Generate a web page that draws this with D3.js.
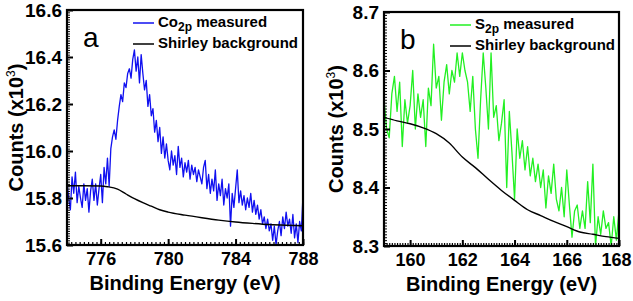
<!DOCTYPE html>
<html>
<head>
<meta charset="utf-8">
<script src="https://cdn.jsdelivr.net/npm/d3@7"></script>
<style>
  body { margin: 0; background: #fff; }
  svg { display: block; font-family: "Liberation Sans", Arial, sans-serif; }
</style>
</head>
<body>
<svg id="chart" width="633" height="301"></svg>
<script>
// panel a : Co 2p
const coEnergy = [
  774.0,774.1,774.2,774.3,774.4,774.5,774.6,774.7,774.8,774.9,
  775.0,775.1,775.2,775.3,775.4,775.5,775.6,775.7,775.8,775.9,
  776.0,776.1,776.2,776.3,776.4,776.5,776.6,776.7,776.8,776.9,
  777.0,777.1,777.2,777.3,777.4,777.5,777.6,777.7,777.8,777.9,
  778.0,778.1,778.2,778.3,778.4,778.5,778.6,778.7,778.8,778.9,
  779.0,779.1,779.2,779.3,779.4,779.5,779.6,779.7,779.8,779.9,
  780.0,780.1,780.2,780.3,780.4,780.5,780.6,780.7,780.8,780.9,
  781.0,781.1,781.2,781.3,781.4,781.5,781.6,781.7,781.8,781.9,
  782.0,782.1,782.2,782.3,782.4,782.5,782.6,782.7,782.8,782.9,
  783.0,783.1,783.2,783.3,783.4,783.5,783.6,783.7,783.8,783.9,
  784.0,784.1,784.2,784.3,784.4,784.5,784.6,784.7,784.8,784.9,
  785.0,785.1,785.2,785.3,785.4,785.5,785.6,785.7,785.8,785.9,
  786.0,786.1,786.2,786.3,786.4,786.5,786.6,786.7,786.8,786.9,
  787.0,787.1,787.2,787.3,787.4,787.5,787.6,787.7,787.8,787.9,
  788.0
]
const coCounts = [
  15.87,15.80,15.75,15.89,15.82,15.91,15.78,15.85,15.80,15.76,
  15.86,15.79,15.84,15.74,15.83,15.88,15.79,15.86,15.77,15.84,
  15.90,15.78,15.93,15.86,15.97,15.85,16.01,16.06,16.09,16.05,
  16.13,16.19,16.24,16.21,16.29,16.27,16.33,16.35,16.31,16.39,
  16.43,16.34,16.40,16.29,16.41,16.33,16.26,16.30,16.19,16.24,
  16.15,16.18,16.08,16.13,16.04,16.10,15.99,16.06,15.97,16.03,
  15.96,15.92,16.00,15.94,15.98,15.90,16.02,15.93,15.97,15.89,
  15.95,15.91,15.96,15.88,15.94,15.90,15.93,15.87,15.92,15.89,
  15.86,15.93,15.96,15.84,15.90,15.82,15.88,15.83,15.92,15.79,
  15.86,15.81,15.88,15.77,15.84,15.80,15.86,15.68,15.82,15.76,
  15.84,15.92,15.78,15.83,15.77,15.81,15.75,15.80,15.76,15.82,
  15.74,15.79,15.73,15.77,15.71,15.75,15.69,15.72,15.67,15.71,
  15.66,15.69,15.62,15.68,15.60,15.66,15.70,15.64,15.72,15.67,
  15.74,15.68,15.71,15.65,15.73,15.63,15.69,15.61,15.70,15.66,
  15.81
]
const coBgEnergy = [774, 775, 776, 776.4, 777, 777.5, 778, 778.5, 779, 779.5, 780, 781, 782, 783, 784, 785, 786, 787, 788]
const coBg = [15.852, 15.852, 15.851, 15.848, 15.838, 15.817, 15.797, 15.780, 15.765, 15.750, 15.740, 15.727, 15.716, 15.706, 15.698, 15.692, 15.687, 15.684, 15.682]
const coXTicks = [776, 780, 784, 788]
const coYTicks = [15.6, 15.8, 16.0, 16.2, 16.4, 16.6]

// panel b : S 2p
const sEnergy = [
  159.0,159.1,159.2,159.3,159.4,159.5,159.6,159.7,159.8,159.9,
  160.0,160.1,160.2,160.3,160.4,160.5,160.6,160.7,160.8,160.9,
  161.0,161.1,161.2,161.3,161.4,161.5,161.6,161.7,161.8,161.9,
  162.0,162.1,162.2,162.3,162.4,162.5,162.6,162.7,162.8,162.9,
  163.0,163.1,163.2,163.3,163.4,163.5,163.6,163.7,163.8,163.9,
  164.0,164.1,164.2,164.3,164.4,164.5,164.6,164.7,164.8,164.9,
  165.0,165.1,165.2,165.3,165.4,165.5,165.6,165.7,165.8,165.9,
  166.0,166.1,166.2,166.3,166.4,166.5,166.6,166.7,166.8,166.9,
  167.0,167.1,167.2,167.3,167.4,167.5,167.6,167.7,167.8,167.9,
  168.0
]
const sCounts = [
  8.550,8.500,8.485,8.560,8.590,8.530,8.580,8.470,8.550,8.510,
  8.540,8.600,8.500,8.560,8.520,8.550,8.470,8.570,8.540,8.645,
  8.570,8.590,8.515,8.580,8.610,8.560,8.600,8.580,8.630,8.590,
  8.630,8.600,8.580,8.530,8.590,8.500,8.450,8.550,8.630,8.570,
  8.500,8.630,8.520,8.540,8.480,8.510,8.550,8.400,8.530,8.460,
  8.380,8.500,8.450,8.480,8.430,8.470,8.420,8.450,8.410,8.440,
  8.400,8.430,8.365,8.420,8.390,8.440,8.380,8.360,8.400,8.350,
  8.430,8.370,8.315,8.360,8.370,8.330,8.360,8.330,8.410,8.340,
  8.440,8.300,8.350,8.320,8.360,8.330,8.340,8.300,8.350,8.310,
  8.360
]
const sBgEnergy = [159, 159.5, 160, 160.5, 161, 161.5, 162, 162.5, 163, 163.5, 164, 164.5, 165, 165.5, 166, 166.5, 167, 167.5, 168]
const sBg = [8.520, 8.514, 8.509, 8.502, 8.492, 8.476, 8.452, 8.434, 8.414, 8.395, 8.378, 8.362, 8.352, 8.342, 8.333, 8.324, 8.320, 8.316, 8.313]
const sXTicks = [160, 162, 164, 166, 168]
const sYTicks = [8.3, 8.4, 8.5, 8.6, 8.7]

const svg = d3.select('#chart')

const panels = [
  {
    id: 'a', box: [67, 303, 10, 245],
    xDom: [774, 788], yDom: [15.6, 16.6],
    xTicks: coXTicks, yTicks: coYTicks, xMinor: 0.25, yMinor: 0.01,
    energy: coEnergy, counts: coCounts, bgE: coBgEnergy, bg: coBg,
    color: '#1010f0', main: 'Co', sub: '2p',
    legX: 133, legY: 23, titleX: 23
  },
  {
    id: 'b', box: [384, 619, 12, 246],
    xDom: [159, 168], yDom: [8.3, 8.7],
    xTicks: sXTicks, yTicks: sYTicks, xMinor: 0.1, yMinor: 0.005,
    energy: sEnergy, counts: sCounts, bgE: sBgEnergy, bg: sBg,
    color: '#22f022', main: 'S', sub: '2p',
    legX: 450, legY: 25, titleX: 343
  }
]

panels.forEach(p => {
  const [x0, x1, y0, y1] = p.box
  const x = d3.scaleLinear().domain(p.xDom).range([x0, x1])
  const y = d3.scaleLinear().domain(p.yDom).range([y1, y0])

  const g = svg.append('g')

  svg.append('clipPath').attr('id', 'clip-' + p.id)
    .append('rect').attr('x', x0).attr('y', y0).attr('width', x1 - x0).attr('height', y1 - y0)

  const plot = g.append('g').attr('clip-path', `url(#clip-${p.id})`)

  // measured spectrum
  plot.append('path')
    .datum(p.energy.map((e, i) => [e, p.counts[i]]))
    .attr('fill', 'none')
    .attr('stroke', p.color)
    .attr('stroke-width', 1.3)
    .attr('stroke-linejoin', 'round')
    .attr('d', d3.line().x(d => x(d[0])).y(d => y(d[1])))

  // shirley background
  plot.append('path')
    .datum(p.bgE.map((e, i) => [e, p.bg[i]]))
    .attr('fill', 'none')
    .attr('stroke', '#000')
    .attr('stroke-width', 1.4)
    .attr('d', d3.line().curve(d3.curveMonotoneX).x(d => x(d[0])).y(d => y(d[1])))

  // minor ticks (inward)
  const xMinorVals = d3.range(p.xDom[0], p.xDom[1] + 1e-6, p.xMinor)
  const yMinorVals = d3.range(p.yDom[0], p.yDom[1] + 1e-6, p.yMinor)

  g.append('g').attr('transform', `translate(0,${y1})`)
    .call(d3.axisBottom(x).tickValues(xMinorVals).tickSize(-3).tickFormat(''))
    .call(a => a.select('.domain').remove())
    .call(a => a.selectAll('line').attr('stroke-width', 1.2))

  g.append('g').attr('transform', `translate(${x0},0)`)
    .call(d3.axisLeft(y).tickValues(yMinorVals).tickSize(-3).tickFormat(''))
    .call(a => a.select('.domain').remove())
    .call(a => a.selectAll('line').attr('stroke-width', 1))

  // major ticks and labels
  g.append('g').attr('transform', `translate(0,${y1})`)
    .call(d3.axisBottom(x).tickValues(p.xTicks).tickSize(-6).tickPadding(7).tickFormat(d3.format('d')))
    .call(a => a.select('.domain').remove())
    .call(a => a.selectAll('line').attr('stroke-width', 2))
    .call(a => a.selectAll('text').attr('fill', '#000')
      .style('font-size', '18px').style('font-weight', 'bold')
      .attr('font-family', null)
      .attr('dx', d => x(d) > 615 ? -3 : 0))

  g.append('g').attr('transform', `translate(${x0},0)`)
    .call(d3.axisLeft(y).tickValues(p.yTicks).tickSize(-6).tickPadding(5).tickFormat(d3.format('.1f')))
    .call(a => a.select('.domain').remove())
    .call(a => a.selectAll('line').attr('stroke-width', 2))
    .call(a => a.selectAll('text').attr('fill', '#000')
      .style('font-size', '19px').style('font-weight', 'bold')
      .attr('font-family', null))

  // frame
  g.append('rect')
    .attr('x', x0).attr('y', y0)
    .attr('width', x1 - x0).attr('height', y1 - y0)
    .attr('fill', 'none').attr('stroke', '#000').attr('stroke-width', 2.2)

  // axis titles
  g.append('text')
    .attr('x', (x0 + x1) / 2).attr('y', y1 + 45)
    .attr('text-anchor', 'middle')
    .style('font-size', '20px').style('font-weight', 'bold')
    .text('Binding Energy (eV)')

  const yt = g.append('text')
    .attr('transform', `translate(${p.titleX},${(y0 + y1) / 2}) rotate(-90)`)
    .attr('text-anchor', 'middle')
    .style('font-size', '20px').style('font-weight', 'bold')
  yt.append('tspan').text('Counts (x10')
  yt.append('tspan').attr('dy', -8).style('font-size', '12px').style('font-weight', 'normal').text('3')
  yt.append('tspan').attr('dy', 8).text(')')

  // panel letter
  g.append('text')
    .attr('x', x0 + 16).attr('y', y0 + 37)
    .style('font-size', '28px')
    .text(p.id)

  // legend
  const leg = g.append('g').style('font-size', '15px').style('font-weight', 'bold')
  leg.append('line')
    .attr('x1', p.legX).attr('x2', p.legX + 21)
    .attr('y1', p.legY).attr('y2', p.legY)
    .attr('stroke', p.color).attr('stroke-width', 1.5)
  const t1 = leg.append('text').attr('x', p.legX + 25).attr('y', p.legY + 4)
  t1.append('tspan').text(p.main)
  t1.append('tspan').attr('dy', 4).style('font-size', '12px').text(p.sub)
  t1.append('tspan').attr('dy', -4).text(' measured')

  leg.append('line')
    .attr('x1', p.legX).attr('x2', p.legX + 21)
    .attr('y1', p.legY + 21).attr('y2', p.legY + 21)
    .attr('stroke', '#000').attr('stroke-width', 1.5)
  leg.append('text').attr('x', p.legX + 25).attr('y', p.legY + 25)
    .text('Shirley background')
})
</script>
</body>
</html>
